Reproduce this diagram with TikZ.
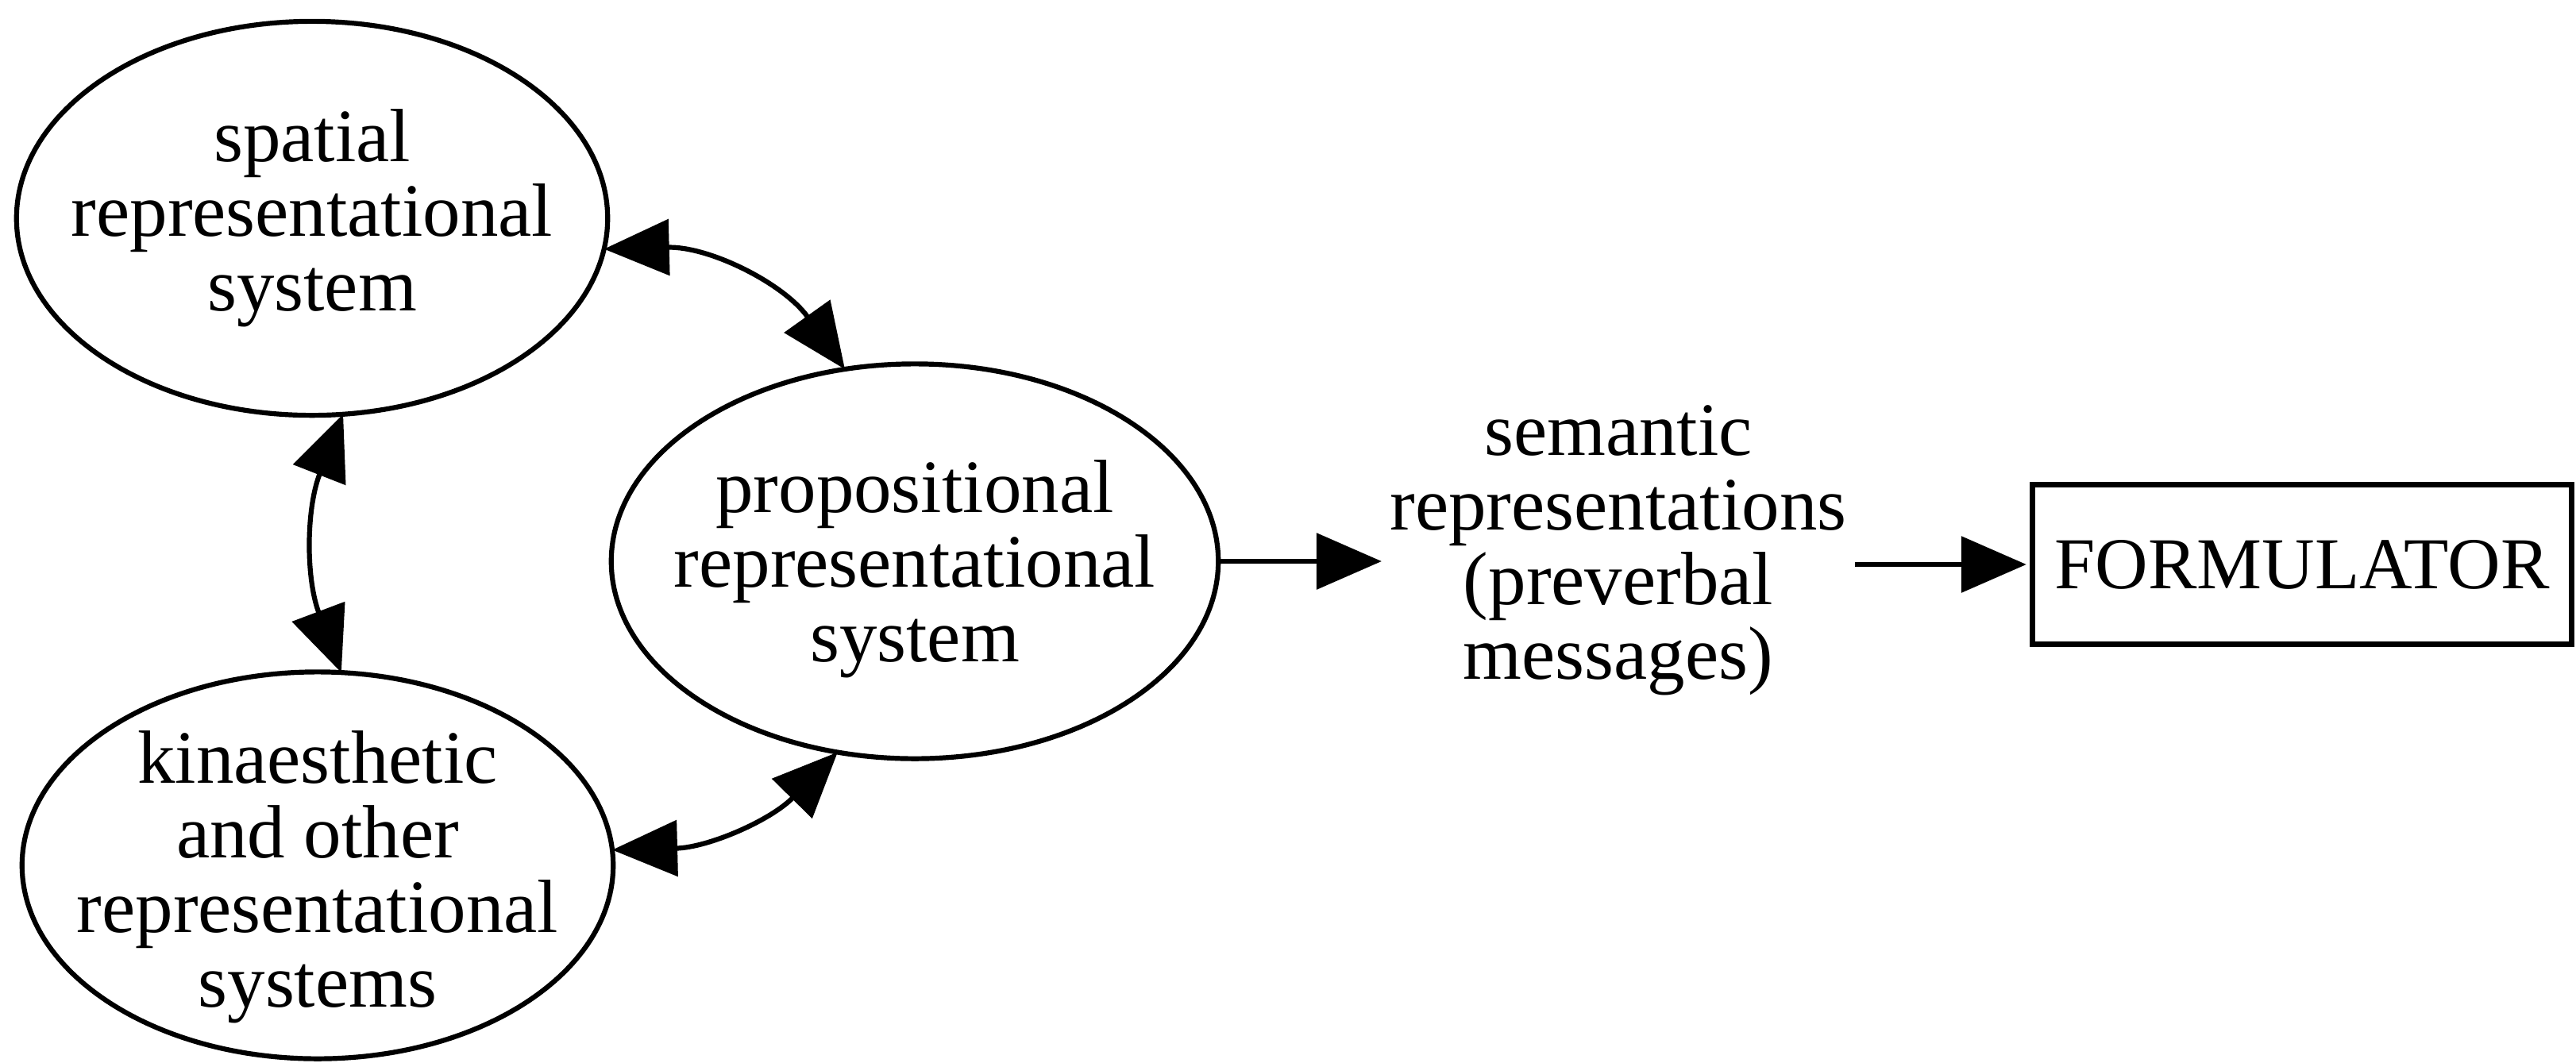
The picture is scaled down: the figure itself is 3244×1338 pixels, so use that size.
\documentclass[tikz,border=0pt]{standalone}
\usepackage{fontspec}
\setmainfont{Liberation Serif}
\usetikzlibrary{arrows.meta,shapes.geometric}
\begin{document}
\begin{tikzpicture}[x=0.01cm,y=-0.01cm,
  txt/.style={font=\fontsize{27}{26.75}\selectfont},
  sys/.style={ellipse, draw, line width=0.062cm, inner sep=0pt, outer sep=0pt},
  inner/.style={txt, align=center, inner sep=0pt},
  link/.style={line width=0.062cm, -{Triangle[length=0.82cm,width=0.7cm]}},
  dlink/.style={line width=0.062cm, {Triangle[length=0.82cm,width=0.7cm]}-{Triangle[length=0.82cm,width=0.7cm]}}]
\useasboundingbox[fill=white] (0,0) rectangle (3244,1338);
\node[sys, minimum width=7.44cm, minimum height=4.96cm,
  label={[inner]center:spatial\\representational\\system}] (spatial) at (393,275) {};
\node[sys, minimum width=7.44cm, minimum height=4.87cm,
  label={[inner, yshift=-0.15cm]center:kinaesthetic\\and other\\representational\\systems}] (kin) at (400,1090) {};
\node[sys, minimum width=7.64cm, minimum height=4.97cm,
  label={[inner, yshift=-0.1cm]center:propositional\\representational\\system}] (prop) at (1152,707) {};
\node[align=center, inner sep=0.1cm, txt] (sem) at (2038,693) {semantic\\representations\\(preverbal\\messages)};
\node[draw, line width=0.07cm, minimum width=6.78cm, minimum height=2.01cm, inner sep=0pt, outer sep=0pt, font=\fontsize{26.2}{26}\selectfont] (form) at (2899,711) {FORMULATOR};
\draw[link] (prop.east) -- (prop.east -| sem.west);
\draw[link, shorten >=0.08cm] (sem.east |- form.west) -- (form.west);
\draw[dlink] (spatial.-6.4) to[bend left=28] (prop.110);
\draw[dlink] (kin.3) to[bend right=22] (prop.-112);
\draw[dlink] (spatial.-81) to[bend right=21] (kin.83.5);
\end{tikzpicture}
\end{document}
